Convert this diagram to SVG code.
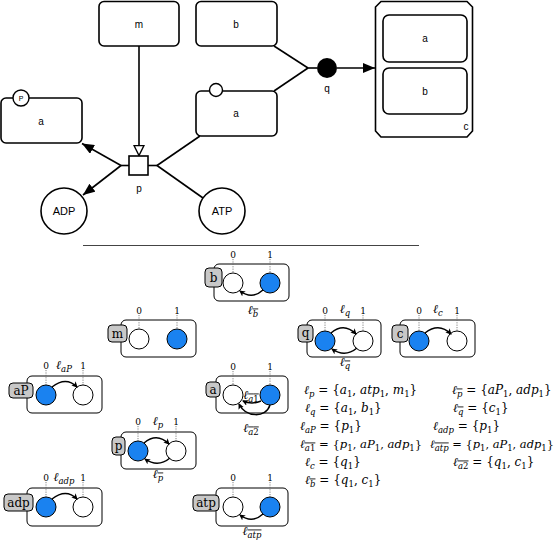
<svg xmlns="http://www.w3.org/2000/svg" width="557" height="540" viewBox="0 0 557 540">
<style>
.box{fill:#fff;stroke:#000;stroke-width:1.6}
.ln{fill:none;stroke:#000;stroke-width:1.6}
.lbl{font-family:"Liberation Sans",Arial,sans-serif;font-size:10px;text-anchor:middle}
.sbox{fill:none;stroke:#000;stroke-width:1}
.tag{fill:#c8c8c8;stroke:#000;stroke-width:1}
.wc{fill:#fff;stroke:#000;stroke-width:1}
.bc{fill:#1a82f0;stroke:#000;stroke-width:1}
.tick{stroke:#666;stroke-width:0.8;stroke-dasharray:1.2 1.2}
.tr{fill:none;stroke:#000;stroke-width:1.5;marker-end:url(#ta)}
.tt{font-family:"DejaVu Serif","Liberation Serif",serif;font-size:12px;text-anchor:middle}
.tk{font-family:"DejaVu Serif","Liberation Serif",serif;font-size:9px;text-anchor:middle}
.ll{font-family:"DejaVu Serif","Liberation Serif",serif;font-size:12px;text-anchor:middle}
.eq{font-family:"DejaVu Serif","Liberation Serif",serif;font-size:12px}
.m{font-style:italic}
.sb{font-size:8.5px;font-style:italic}
.s1{font-size:8.5px;font-style:normal}
.ob{text-decoration:overline}
</style>
<defs>
<marker id="fa" viewBox="0 0 12 10" refX="12" refY="5" markerWidth="12" markerHeight="10" orient="auto" markerUnits="userSpaceOnUse"><path d="M0,0 L12,5 L0,10 z" fill="#000"/></marker>
<marker id="ha" viewBox="0 0 12 12" refX="11" refY="6" markerWidth="12" markerHeight="12" orient="auto" markerUnits="userSpaceOnUse"><path d="M1,1 L11,6 L1,11 z" fill="#fff" stroke="#000" stroke-width="1.4"/></marker>
<marker id="ta" viewBox="0 0 6 6" refX="5" refY="3" markerWidth="6" markerHeight="6" orient="auto" markerUnits="userSpaceOnUse"><path d="M0,0 L6,3 L0,6 L1.5,3 z" fill="#000"/></marker>
</defs>

<g id="connectors">
<line class="ln" x1="139" y1="46" x2="139" y2="155.5" marker-end="url(#ha)"/>
<line class="ln" x1="129" y1="165.5" x2="121" y2="165.5"/>
<line class="ln" x1="121" y1="165.5" x2="82" y2="143.5" marker-end="url(#fa)"/>
<line class="ln" x1="121" y1="165.5" x2="83" y2="195" marker-end="url(#fa)"/>
<line class="ln" x1="148" y1="165.5" x2="157" y2="165.5"/>
<line class="ln" x1="157" y1="165.5" x2="200" y2="136"/>
<line class="ln" x1="157" y1="165.5" x2="203" y2="198"/>
<line class="ln" x1="274" y1="46" x2="308" y2="68"/>
<line class="ln" x1="274" y1="91" x2="308" y2="68"/>
<line class="ln" x1="308" y1="68" x2="317" y2="68"/>
<line class="ln" x1="337" y1="68" x2="375" y2="68" marker-end="url(#fa)"/>
</g>

<g id="node-m"><rect class="box" x="99" y="1.5" width="80" height="44.5" rx="5"/><text class="lbl" x="139" y="28">m</text></g>
<g id="node-b"><rect class="box" x="196" y="1.5" width="81" height="44.5" rx="5"/><text class="lbl" x="236" y="28">b</text></g>
<g id="node-aP"><rect class="box" x="1" y="98" width="81" height="45" rx="5"/><circle cx="21" cy="98" r="8" fill="#fff" stroke="#000" stroke-width="1.4"/><text x="21" y="101" style="font-family:'Liberation Sans',Arial,sans-serif;font-size:7px;text-anchor:middle">P</text><text class="lbl" x="41" y="125">a</text></g>
<g id="node-a"><rect class="box" x="196" y="91" width="81" height="45" rx="5"/><circle cx="216" cy="90" r="6.5" fill="#fff" stroke="#000" stroke-width="1.4"/><text class="lbl" x="236" y="117">a</text></g>
<g id="node-p"><rect class="box" x="129" y="156" width="19" height="19"/><text class="lbl" x="139" y="192">p</text></g>
<g id="node-ADP"><circle class="box" cx="64" cy="211" r="23"/><text class="lbl" x="64" y="215" style="font-size:11px">ADP</text></g>
<g id="node-ATP"><circle class="box" cx="222" cy="211" r="23"/><text class="lbl" x="222" y="215" style="font-size:11px">ATP</text></g>
<g id="node-q"><circle cx="327" cy="68" r="10" fill="#000"/><text class="lbl" x="327" y="92">q</text></g>
<g id="node-c">
<polygon class="box" points="381,1.5 467,1.5 472.5,7 472.5,131 467,137 381,137 375.5,131 375.5,7"/>
<rect class="box" x="383" y="15" width="84" height="47" rx="6"/><text class="lbl" x="425" y="42">a</text>
<rect class="box" x="383" y="68" width="84" height="46" rx="6"/><text class="lbl" x="425" y="95">b</text>
<text class="lbl" x="466" y="130">c</text>
</g>

<line x1="83" y1="245.5" x2="419" y2="245.5" stroke="#444" stroke-width="1"/>

<g id="state-b">
<rect class="sbox" x="214" y="264" width="75" height="37" rx="5"/>
<rect class="tag" x="205" y="268" width="17" height="19" rx="4"/><text class="tt" x="213.5" y="282">b</text>
<line class="tick" x1="233" y1="259" x2="233" y2="273"/><line class="tick" x1="270" y1="259" x2="270" y2="273"/>
<text class="tk" x="233" y="258">0</text><text class="tk" x="270" y="258">1</text>
<circle class="wc" cx="233" cy="283" r="10"/><circle class="bc" cx="270" cy="283" r="10"/>
<path class="tr" d="M263,290 Q252,300 240,291"/>
<text class="ll" x="253" y="314"><tspan class="m">ℓ</tspan><tspan class="sb ob" dy="2.5">b</tspan></text>
</g>

<g id="state-m">
<rect class="sbox" x="121" y="320" width="75" height="37" rx="5"/>
<rect class="tag" x="108" y="325" width="19" height="17" rx="4"/><text class="tt" x="117.5" y="337.5">m</text>
<line class="tick" x1="139" y1="315" x2="139" y2="329"/><line class="tick" x1="177" y1="315" x2="177" y2="329"/>
<text class="tk" x="139" y="314">0</text><text class="tk" x="177" y="314">1</text>
<circle class="wc" cx="139" cy="339" r="10"/><circle class="bc" cx="177" cy="339" r="10"/>
</g>

<g id="state-q">
<rect class="sbox" x="307" y="320" width="74" height="37" rx="5"/>
<rect class="tag" x="298" y="325" width="15" height="17" rx="4"/><text class="tt" x="305.5" y="337">q</text>
<line class="tick" x1="325" y1="315" x2="325" y2="331"/><line class="tick" x1="363" y1="315" x2="363" y2="331"/>
<text class="tk" x="325" y="314">0</text><text class="tk" x="363" y="314">1</text>
<circle class="bc" cx="325" cy="341" r="10"/><circle class="wc" cx="363" cy="341" r="10"/>
<path class="tr" d="M331,333 Q344,322 356,334"/>
<path class="tr" d="M357,348 Q345,358 332,349"/>
<text class="ll" x="345" y="313"><tspan class="m">ℓ</tspan><tspan class="sb" dy="2.5">q</tspan></text>
<text class="ll" x="345" y="366"><tspan class="m">ℓ</tspan><tspan class="sb ob" dy="2.5">q</tspan></text>
</g>

<g id="state-c">
<rect class="sbox" x="400" y="320" width="75" height="37" rx="5"/>
<rect class="tag" x="392" y="325" width="16" height="17" rx="4"/><text class="tt" x="400" y="337.5">c</text>
<line class="tick" x1="419" y1="315" x2="419" y2="331"/><line class="tick" x1="457" y1="315" x2="457" y2="331"/>
<text class="tk" x="419" y="314">0</text><text class="tk" x="457" y="314">1</text>
<circle class="bc" cx="419" cy="341" r="10"/><circle class="wc" cx="457" cy="341" r="10"/>
<path class="tr" d="M425,333 Q439,322 451,334"/>
<text class="ll" x="438" y="313"><tspan class="m">ℓ</tspan><tspan class="sb" dy="2.5">c</tspan></text>
</g>

<g id="state-aP">
<rect class="sbox" x="27" y="376" width="75" height="37" rx="5"/>
<rect class="tag" x="9" y="383" width="24" height="15" rx="4"/><text class="tt" x="21" y="394.5">aP</text>
<line class="tick" x1="46" y1="370" x2="46" y2="385"/><line class="tick" x1="83" y1="370" x2="83" y2="385"/>
<text class="tk" x="46" y="369">0</text><text class="tk" x="83" y="369">1</text>
<circle class="bc" cx="46" cy="395" r="10"/><circle class="wc" cx="83" cy="395" r="10"/>
<path class="tr" d="M52,387 Q66,376 77,387"/>
<text class="ll" x="64" y="369"><tspan class="m">ℓ</tspan><tspan class="sb" dy="2.5">aP</tspan></text>
</g>

<g id="state-a">
<rect class="sbox" x="216" y="376" width="72" height="37" rx="5"/>
<rect class="tag" x="206" y="382" width="14" height="15" rx="4"/><text class="tt" x="213" y="393.5">a</text>
<line class="tick" x1="233" y1="371" x2="233" y2="385"/><line class="tick" x1="270" y1="371" x2="270" y2="385"/>
<text class="tk" x="233" y="370">0</text><text class="tk" x="270" y="370">1</text>
<circle class="wc" cx="233" cy="395" r="10"/><circle class="bc" cx="270" cy="395" r="10"/>
<path class="tr" d="M261,401 Q252,405 243,401"/>
<path class="tr" d="M270,405 C266,418 246,418 239,404"/>
<text class="ll" x="251" y="399"><tspan class="m">ℓ</tspan><tspan class="s1 ob" dy="2.5"><tspan class="m">a</tspan>1</tspan></text>
<text class="ll" x="251" y="432"><tspan class="m">ℓ</tspan><tspan class="s1 ob" dy="2.5"><tspan class="m">a</tspan>2</tspan></text>
</g>

<g id="state-p">
<rect class="sbox" x="121" y="432" width="75" height="37" rx="5"/>
<rect class="tag" x="112" y="437" width="13" height="18" rx="4"/><text class="tt" x="118.5" y="449.5">p</text>
<line class="tick" x1="138" y1="426" x2="138" y2="441"/><line class="tick" x1="176" y1="426" x2="176" y2="441"/>
<text class="tk" x="138" y="425">0</text><text class="tk" x="176" y="425">1</text>
<circle class="bc" cx="138" cy="451" r="10"/><circle class="wc" cx="176" cy="451" r="10"/>
<path class="tr" d="M144,443 Q157,432 169,444"/>
<path class="tr" d="M170,458 Q158,468 145,459"/>
<text class="ll" x="158" y="425"><tspan class="m">ℓ</tspan><tspan class="sb" dy="2.5">p</tspan></text>
<text class="ll" x="158" y="478"><tspan class="m">ℓ</tspan><tspan class="sb ob" dy="2.5">p</tspan></text>
</g>

<g id="state-adp">
<rect class="sbox" x="27" y="488" width="75" height="38" rx="5"/>
<rect class="tag" x="4" y="494" width="29" height="17" rx="4"/><text class="tt" x="18.5" y="506.5">adp</text>
<line class="tick" x1="46" y1="482" x2="46" y2="497"/><line class="tick" x1="83" y1="482" x2="83" y2="497"/>
<text class="tk" x="46" y="481">0</text><text class="tk" x="83" y="481">1</text>
<circle class="bc" cx="46" cy="507" r="10"/><circle class="wc" cx="83" cy="507" r="10"/>
<path class="tr" d="M52,499 Q66,488 77,499"/>
<text class="ll" x="64" y="481"><tspan class="m">ℓ</tspan><tspan class="sb" dy="2.5">adp</tspan></text>
</g>

<g id="state-atp">
<rect class="sbox" x="216" y="488" width="72" height="38" rx="5"/>
<rect class="tag" x="193" y="495" width="26" height="16" rx="4"/><text class="tt" x="206" y="507">atp</text>
<line class="tick" x1="233" y1="482" x2="233" y2="497"/><line class="tick" x1="270" y1="482" x2="270" y2="497"/>
<text class="tk" x="233" y="481">0</text><text class="tk" x="270" y="481">1</text>
<circle class="wc" cx="233" cy="507" r="10"/><circle class="bc" cx="270" cy="507" r="10"/>
<path class="tr" d="M263,514 Q252,524 240,515"/>
<text class="ll" x="252" y="535"><tspan class="m">ℓ</tspan><tspan class="sb ob" dy="2.5">atp</tspan></text>
</g>

<g id="equations">
<text class="eq" x="304" y="394"><tspan class="m">ℓ</tspan><tspan class="sb" dy="2.5">p</tspan><tspan dy="-2.5"> = {</tspan><tspan class="m">a</tspan><tspan class="s1" dy="2.5">1</tspan><tspan dy="-2.5">, </tspan><tspan class="m">atp</tspan><tspan class="s1" dy="2.5">1</tspan><tspan dy="-2.5">, </tspan><tspan class="m">m</tspan><tspan class="s1" dy="2.5">1</tspan><tspan dy="-2.5">}</tspan></text>
<text class="eq" x="305" y="412"><tspan class="m">ℓ</tspan><tspan class="sb" dy="2.5">q</tspan><tspan dy="-2.5"> = {</tspan><tspan class="m">a</tspan><tspan class="s1" dy="2.5">1</tspan><tspan dy="-2.5">, </tspan><tspan class="m">b</tspan><tspan class="s1" dy="2.5">1</tspan><tspan dy="-2.5">}</tspan></text>
<text class="eq" x="300" y="430"><tspan class="m">ℓ</tspan><tspan class="sb" dy="2.5">aP</tspan><tspan dy="-2.5"> = {</tspan><tspan class="m">p</tspan><tspan class="s1" dy="2.5">1</tspan><tspan dy="-2.5">}</tspan></text>
<text class="eq" x="300" y="448" style="font-size:11.6px"><tspan class="m">ℓ</tspan><tspan class="s1 ob" dy="2.5"><tspan class="m">a</tspan>1</tspan><tspan dy="-2.5"> = {</tspan><tspan class="m">p</tspan><tspan class="s1" dy="2.5">1</tspan><tspan dy="-2.5">, </tspan><tspan class="m">aP</tspan><tspan class="s1" dy="2.5">1</tspan><tspan dy="-2.5">, </tspan><tspan class="m">adp</tspan><tspan class="s1" dy="2.5">1</tspan><tspan dy="-2.5">}</tspan></text>
<text class="eq" x="305" y="466"><tspan class="m">ℓ</tspan><tspan class="sb" dy="2.5">c</tspan><tspan dy="-2.5"> = {</tspan><tspan class="m">q</tspan><tspan class="s1" dy="2.5">1</tspan><tspan dy="-2.5">}</tspan></text>
<text class="eq" x="305" y="484"><tspan class="m">ℓ</tspan><tspan class="sb ob" dy="2.5">b</tspan><tspan dy="-2.5"> = {</tspan><tspan class="m">q</tspan><tspan class="s1" dy="2.5">1</tspan><tspan dy="-2.5">, </tspan><tspan class="m">c</tspan><tspan class="s1" dy="2.5">1</tspan><tspan dy="-2.5">}</tspan></text>
<text class="eq" x="452" y="394"><tspan class="m">ℓ</tspan><tspan class="sb ob" dy="2.5">p</tspan><tspan dy="-2.5"> = {</tspan><tspan class="m">aP</tspan><tspan class="s1" dy="2.5">1</tspan><tspan dy="-2.5">, </tspan><tspan class="m">adp</tspan><tspan class="s1" dy="2.5">1</tspan><tspan dy="-2.5">}</tspan></text>
<text class="eq" x="453" y="412"><tspan class="m">ℓ</tspan><tspan class="sb ob" dy="2.5">q</tspan><tspan dy="-2.5"> = {</tspan><tspan class="m">c</tspan><tspan class="s1" dy="2.5">1</tspan><tspan dy="-2.5">}</tspan></text>
<text class="eq" x="433" y="430"><tspan class="m">ℓ</tspan><tspan class="sb" dy="2.5">adp</tspan><tspan dy="-2.5"> = {</tspan><tspan class="m">p</tspan><tspan class="s1" dy="2.5">1</tspan><tspan dy="-2.5">}</tspan></text>
<text class="eq" x="430" y="448" style="font-size:11.4px"><tspan class="m">ℓ</tspan><tspan class="sb ob" dy="2.5">atp</tspan><tspan dy="-2.5"> = {</tspan><tspan class="m">p</tspan><tspan class="s1" dy="2.5">1</tspan><tspan dy="-2.5">, </tspan><tspan class="m">aP</tspan><tspan class="s1" dy="2.5">1</tspan><tspan dy="-2.5">, </tspan><tspan class="m">adp</tspan><tspan class="s1" dy="2.5">1</tspan><tspan dy="-2.5">}</tspan></text>
<text class="eq" x="453" y="466"><tspan class="m">ℓ</tspan><tspan class="s1 ob" dy="2.5"><tspan class="m">a</tspan>2</tspan><tspan dy="-2.5"> = {</tspan><tspan class="m">q</tspan><tspan class="s1" dy="2.5">1</tspan><tspan dy="-2.5">, </tspan><tspan class="m">c</tspan><tspan class="s1" dy="2.5">1</tspan><tspan dy="-2.5">}</tspan></text>
</g>
</svg>
